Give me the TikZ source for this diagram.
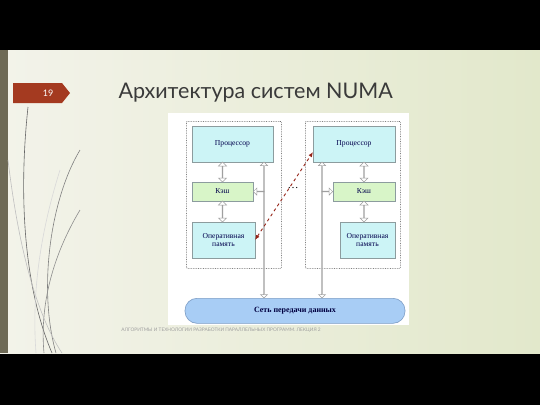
\documentclass[tikz,border=0pt]{standalone}
\usepackage{fontspec}
\setmainfont{Liberation Serif}
\newfontfamily\slidefont{Lato}
\usetikzlibrary{arrows.meta, positioning, shapes, shapes.arrows, calc}

\definecolor{procblue}{HTML}{CCF4F6}
\definecolor{cachegreen}{HTML}{D8F5C8}
\definecolor{netblue}{HTML}{A8CDF5}
\definecolor{netedge}{HTML}{7C9CC4}
\definecolor{boxedge}{HTML}{8C9C9E}
\definecolor{tabred}{HTML}{A43A20}
\definecolor{stripgray}{HTML}{6E6A56}
\definecolor{dashred}{HTML}{962418}
\definecolor{titlegray}{HTML}{3A3A3A}
\definecolor{slideleft}{HTML}{F3F3EA}
\definecolor{slideright}{HTML}{E2E8CB}

\begin{document}
\begin{tikzpicture}[x=1pt, y=-1pt,
    unit/.style={rectangle, draw=boxedge, line width=0.5pt, inner sep=0pt, outer sep=0pt,
        text=black!70!blue, font=\fontsize{7.6}{8.8}\selectfont, align=center},
    proc/.style={unit, fill=procblue, minimum height=36pt},
    cache/.style={unit, fill=cachegreen, minimum height=19pt},
    mem/.style={unit, fill=procblue, minimum height=36pt},
    nodebox/.style={rectangle, draw=black!75, densely dotted, line width=0.7pt, rounded corners=1pt,
        minimum width=95pt, minimum height=147pt, inner sep=0pt},
    hollow/.style={double arrow, draw=gray!75, fill=white, line width=0.5pt, inner sep=0pt,
        minimum width=8pt, double arrow head extend=2pt, rotate=90},
    busarrow/.style={hollow, minimum width=7pt, double arrow head extend=1.5pt},
    sidearrow/.style={single arrow, draw=gray!75, fill=white, line width=0.5pt, inner sep=0pt,
        minimum width=7pt, single arrow head extend=1.6pt, minimum height=11pt},
    curve/.style={line width=0.6pt}]
    \useasboundingbox (0,0) rectangle (540,405);
    % slide
    \fill[black] (0,0) rectangle (540,405);
    \shade[left color=slideleft, right color=slideright] (0,50) rectangle (540,353);
    \fill[stripgray] (0,50) rectangle (8,353);
    \draw[curve, black!60] (28,107) .. controls (18,200) and (25,290) .. (52,353);
    \draw[curve, black!50] (80,150) .. controls (50,200) and (38,290) .. (56,353);
    \draw[curve, black!45] (80,210) .. controls (50,260) and (40,310) .. (44,353);
    \draw[curve, black!25] (8,160) .. controls (20,260) and (40,320) .. (62,353);
    \draw[curve, black!15] (60,170) .. controls (38,240) and (32,300) .. (36,353);
    \fill[tabred] (13,83) -- (62,83) -- (70,93) -- (62,103) -- (13,103) -- cycle;
    \node[font=\slidefont\fontsize{9}{10}\selectfont, text=white] (num) at (48,93) {19};
    \node[font=\slidefont\fontsize{21.5}{24}\selectfont, text=titlegray, anchor=west] (title) at (115,93) {Архитектура систем NUMA};

    % diagram
    \fill[white] (168,113) rectangle (409,325);
    \node[nodebox, anchor=north west] (lnode) at (186,121) {};
    \node[nodebox, anchor=north west] (rnode) at (305,121) {};

    \node[proc, minimum width=81pt, anchor=north west] (lproc) at (192,126) {Процессор};
    \node[cache, minimum width=61pt] (lcache) [below=20pt of lproc.south west, anchor=north west] {Кэш};
    \node[mem, minimum width=63pt] (lmem) [below=21pt of lcache.south west, anchor=north west] {Оперативная\\память};

    \node[proc, minimum width=82pt, anchor=north west] (rproc) at (313,126) {Процессор};
    \node[cache, minimum width=62pt] (rcache) [below=20pt of rproc.south east, anchor=north east] {Кэш};
    \node[mem, minimum width=55pt] (rmem) [below=21pt of rcache.south east, anchor=north east] {Оперативная\\память};

    \node[rectangle, rounded corners=12pt, draw=netedge, fill=netblue, line width=0.6pt,
        minimum width=220pt, minimum height=25pt, anchor=north, text=black!75!blue,
        font=\bfseries\fontsize{8}{9}\selectfont] (net) at (295,298) {Сеть передачи данных};

    \coordinate (lbus) at (264,162);
    \coordinate (rbus) at (322,162);
    \node[font=\fontsize{11}{12}\selectfont] (dots) at (293,188) {\dots};

    % hollow arrows
    \node[hollow, minimum height=20pt] (lpc) at ($(lcache.north |- lproc.south)!0.5!(lcache.north)$) {};
    \node[hollow, minimum height=21pt] (lcm) at ($(lcache.south)!0.5!(lmem.north -| lcache.south)$) {};
    \node[hollow, minimum height=20pt] (rpc) at ($(rcache.north |- rproc.south)!0.5!(rcache.north)$) {};
    \node[hollow, minimum height=21pt] (rcm) at ($(rcache.south)!0.5!(rmem.north -| rcache.south)$) {};
    \node[busarrow, minimum height=136pt] (lbusline) at ($(lbus)!0.5!(lbus |- net.north)$) {};
    \node[busarrow, minimum height=136pt] (rbusline) at ($(rbus)!0.5!(rbus |- net.north)$) {};
    \node[sidearrow, rotate=180, anchor=tip] (lside) at (lcache.east) {};
    \node[sidearrow, anchor=tip] (rside) at (rcache.west) {};

    \draw[dashed, draw=dashred, line width=0.9pt, {Latex[length=5pt,width=4pt]}-{Latex[length=5pt,width=4pt]}]
        (lmem.east) -- ([yshift=-8pt]rproc.west);

    \node[font=\slidefont\fontsize{4.8}{5.5}\selectfont, text=gray!75] (foot) at (221,330)
        {АЛГОРИТМЫ И ТЕХНОЛОГИИ РАЗРАБОТКИ ПАРАЛЛЕЛЬНЫХ ПРОГРАММ. ЛЕКЦИЯ 2};
\end{tikzpicture}
\end{document}
